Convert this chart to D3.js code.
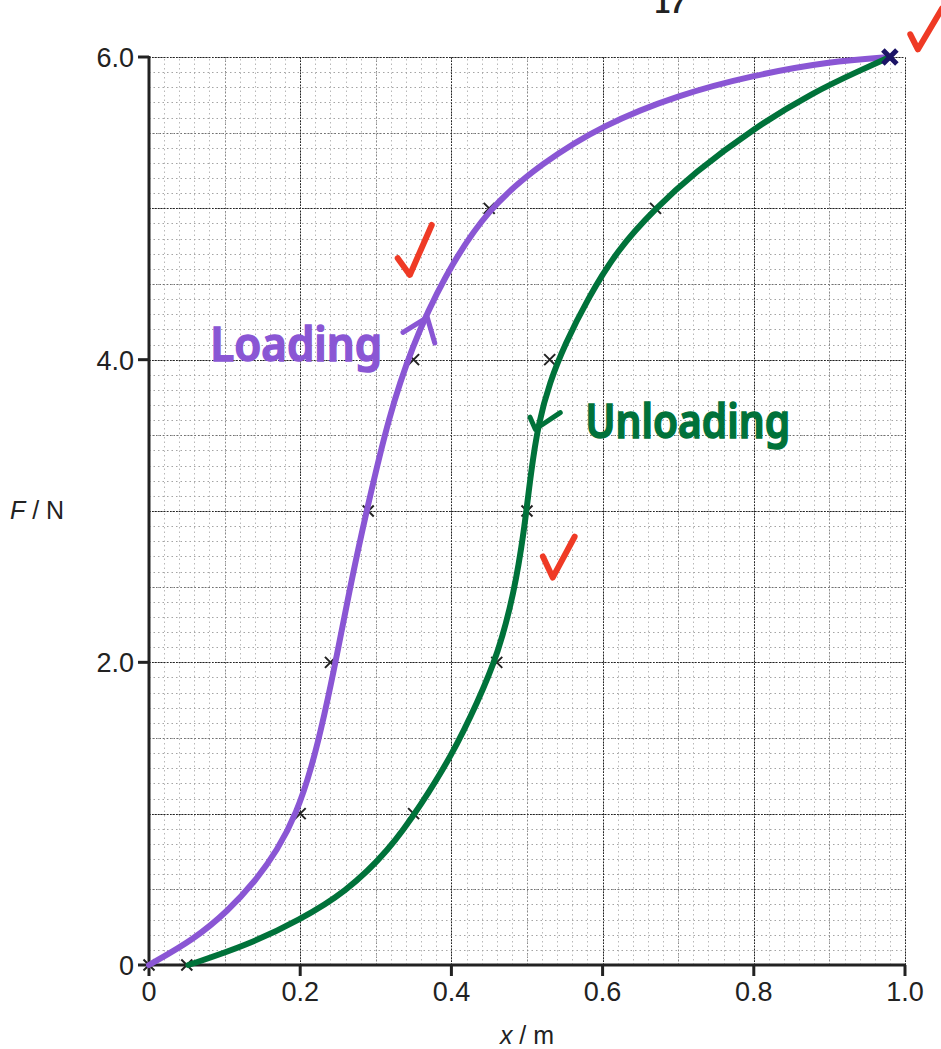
<!DOCTYPE html>
<html>
<head>
<meta charset="utf-8">
<script src="https://cdn.jsdelivr.net/npm/d3@7"></script>
<style>
  html, body { margin: 0; padding: 0; background: #fff; }
  svg { display: block; }
</style>
</head>
<body>
<div id="chart"></div>
<script>
var loadPts = [[0, 0], [0.20, 1.0], [0.24, 2.0], [0.29, 3.0], [0.35, 4.0], [0.45, 5.0]];
var unloadPts = [[0.67, 5.0], [0.53, 4.0], [0.50, 3.0], [0.46, 2.0], [0.35, 1.0], [0.05, 0]];

// hand drawn curves (x / m, F / N)
var loadCurve = [[0, 0], [0.06, 0.17], [0.105, 0.36], [0.14, 0.55], [0.17, 0.76], [0.195, 1.0],
  [0.215, 1.3], [0.232, 1.65], [0.248, 2.03], [0.268, 2.55], [0.29, 3.05], [0.317, 3.62],
  [0.347, 4.08], [0.39, 4.55], [0.448, 5.0], [0.52, 5.3], [0.6, 5.55], [0.7, 5.75],
  [0.8, 5.88], [0.9, 5.97], [0.98, 6.0]];
var unloadCurve = [[0.052, 0], [0.13, 0.13], [0.2, 0.3], [0.26, 0.48], [0.318, 0.76],
  [0.36, 1.06], [0.4, 1.38], [0.435, 1.74], [0.462, 2.06], [0.483, 2.46], [0.496, 2.86],
  [0.505, 3.25], [0.515, 3.58], [0.53, 3.85], [0.55, 4.1], [0.58, 4.4], [0.62, 4.73],
  [0.67, 5.0], [0.72, 5.23], [0.8, 5.53], [0.88, 5.77], [0.94, 5.91], [0.98, 6.0]];

// pen annotations
var loadArrow = [[0.336, 4.18], [0.368, 4.28], [0.378, 4.11]];
var unloadArrow = [[0.504, 3.62], [0.511, 3.54], [0.544, 3.65]];
var ticks = [
  [[0.329, 4.67], [0.345, 4.56], [0.374, 4.89]],
  [[0.521, 2.70], [0.534, 2.56], [0.563, 2.83]],
  [[1.007, 6.15], [1.017, 6.05], [1.049, 6.32]]
];
var endMark = [0.98, 6.0];
var labels = [
  { text: "Loading", x: 0.081, y: 3.99, len: 172, color: "#8a56d4" },
  { text: "Unloading", x: 0.577, y: 3.48, len: 205, color: "#00723a" }
];

var xTicks = [0, 0.2, 0.4, 0.6, 0.8, 1.0];
var xTickLabels = ["0", "0.2", "0.4", "0.6", "0.8", "1.0"];
var yTicks = [0, 2, 4, 6];
var yTickLabels = ["0", "2.0", "4.0", "6.0"];

var width = 941, height = 1049;
var purple = "#8a56d4", green = "#00723a";

var svg = d3.select("#chart").append("svg")
  .attr("width", width)
  .attr("height", height);

var x = d3.scaleLinear().domain([0, 1]).range([149, 905]);
var y = d3.scaleLinear().domain([0, 6]).range([965, 57]);

//grid: fine, medium, heavy
var g = svg.append("g");
function vgrid(step, color, dash) {
  g.selectAll(null).data(d3.range(0, 1.0001, step)).enter().append("line")
    .attr("x1", function(d) { return Math.round(x(d)) + 0.5; })
    .attr("x2", function(d) { return Math.round(x(d)) + 0.5; })
    .attr("y1", y(0)).attr("y2", y(6))
    .style("stroke", color).style("stroke-width", 1)
    .style("stroke-dasharray", dash);
}
function hgrid(step, color, dash) {
  g.selectAll(null).data(d3.range(0, 6.0001, step)).enter().append("line")
    .attr("y1", function(d) { return Math.round(y(d)) + 0.5; })
    .attr("y2", function(d) { return Math.round(y(d)) + 0.5; })
    .attr("x1", x(0)).attr("x2", x(1))
    .style("stroke", color).style("stroke-width", 1)
    .style("stroke-dasharray", dash);
}
vgrid(0.02, "#b8b8b8", "1.5,3");
hgrid(0.1, "#a4a4a4", "1.5,3");
vgrid(0.1, "#8a8a8a", "1.5,2");
hgrid(0.5, "#707070", "1.5,2");
vgrid(0.2, "#222", "1.5,1.5");
hgrid(1.0, "#222", "1.5,1.5");

// axes
var axisColor = "#222";
svg.append("line")
  .attr("x1", x(0)).attr("x2", x(0)).attr("y1", y(6) - 1).attr("y2", y(0) + 1)
  .style("stroke", axisColor).style("stroke-width", 3);
svg.append("line")
  .attr("x1", x(0) - 1).attr("x2", x(1) + 1).attr("y1", y(0)).attr("y2", y(0))
  .style("stroke", axisColor).style("stroke-width", 3);

svg.selectAll(".xt").data(xTicks).enter().append("line")
  .attr("x1", function(d) { return x(d); }).attr("x2", function(d) { return x(d); })
  .attr("y1", y(0)).attr("y2", y(0) + 11)
  .style("stroke", axisColor).style("stroke-width", 3);
svg.selectAll(".yt").data(yTicks).enter().append("line")
  .attr("y1", function(d) { return y(d); }).attr("y2", function(d) { return y(d); })
  .attr("x1", x(0) - 11).attr("x2", x(0))
  .style("stroke", axisColor).style("stroke-width", 3);

var font = "'Liberation Sans', Arial, Helvetica, sans-serif";
svg.selectAll(".xl").data(xTicks).enter().append("text")
  .attr("x", function(d) { return x(d); })
  .attr("y", y(0) + 36)
  .attr("text-anchor", "middle")
  .style("font-family", font).style("font-size", "27px").style("fill", "#222")
  .text(function(d, i) { return xTickLabels[i]; });
svg.selectAll(".yl").data(yTicks).enter().append("text")
  .attr("x", x(0) - 15)
  .attr("y", function(d) { return y(d) + 10; })
  .attr("text-anchor", "end")
  .style("font-family", font).style("font-size", "27px").style("fill", "#222")
  .text(function(d, i) { return yTickLabels[i]; });

// axis titles
var fl = svg.append("text").attr("x", 10).attr("y", 519)
  .style("font-family", font).style("font-size", "25px").style("fill", "#222");
fl.append("tspan").style("font-style", "italic").text("F");
fl.append("tspan").text(" / N");
var xl = svg.append("text").attr("x", 527).attr("y", 1044).attr("text-anchor", "middle")
  .style("font-family", font).style("font-size", "25px").style("fill", "#222");
xl.append("tspan").style("font-style", "italic").text("x");
xl.append("tspan").text(" / m");

// page number, cut by the top edge like on the scan
svg.append("text").attr("x", 670).attr("y", 13).attr("text-anchor", "middle")
  .style("font-family", font).style("font-size", "28px").style("font-weight", "bold")
  .style("fill", "#222").text("17");

// curves
var line = d3.line()
  .x(function(d) { return x(d[0]); })
  .y(function(d) { return y(d[1]); })
  .curve(d3.curveBasis);
var pen = d3.line()
  .x(function(d) { return x(d[0]); })
  .y(function(d) { return y(d[1]); });

// crosses
function cross(pts, size, color, w) {
  svg.append("g").selectAll("path").data(pts).enter().append("path")
    .attr("d", function(d) {
      var cx = x(d[0]), cy = y(d[1]);
      return "M" + (cx - size) + "," + (cy - size) + "L" + (cx + size) + "," + (cy + size) +
        "M" + (cx - size) + "," + (cy + size) + "L" + (cx + size) + "," + (cy - size);
    })
    .style("stroke", color).style("stroke-width", w).style("fill", "none");
}
cross(loadPts, 5.5, "#222", 2);
cross(unloadPts, 5.5, "#222", 2);

svg.append("path").datum(loadCurve).attr("d", line)
  .style("fill", "none").style("stroke", purple).style("stroke-width", 6)
  .style("stroke-linecap", "round");
svg.append("path").datum(unloadCurve).attr("d", line)
  .style("fill", "none").style("stroke", green).style("stroke-width", 6)
  .style("stroke-linecap", "round");

svg.append("path").datum(loadArrow).attr("d", pen)
  .style("fill", "none").style("stroke", purple).style("stroke-width", 5)
  .style("stroke-linecap", "round").style("stroke-linejoin", "round");
svg.append("path").datum(unloadArrow).attr("d", pen)
  .style("fill", "none").style("stroke", green).style("stroke-width", 5)
  .style("stroke-linecap", "round").style("stroke-linejoin", "round");

// end point, marked again in dark ink
cross([endMark], 7, "#1c1466", 5);

// handwritten labels
svg.selectAll(".hand").data(labels).enter().append("text")
  .attr("x", function(d) { return x(d.x); })
  .attr("y", function(d) { return y(d.y); })
  .attr("textLength", function(d) { return d.len; })
  .attr("lengthAdjust", "spacingAndGlyphs")
  .style("font-family", "'Noto Sans', 'DejaVu Sans', sans-serif")
  .style("font-size", "46px")
  .style("font-weight", "600")
  .style("fill", function(d) { return d.color; })
  .style("stroke", function(d) { return d.color; })
  .style("stroke-width", 1.5)
  .text(function(d) { return d.text; });

// red ticks
svg.append("g").selectAll("path").data(ticks).enter().append("path")
  .attr("d", pen)
  .style("fill", "none").style("stroke", "#ef3a25").style("stroke-width", 6)
  .style("stroke-linecap", "round").style("stroke-linejoin", "round");
</script>
</body>
</html>
